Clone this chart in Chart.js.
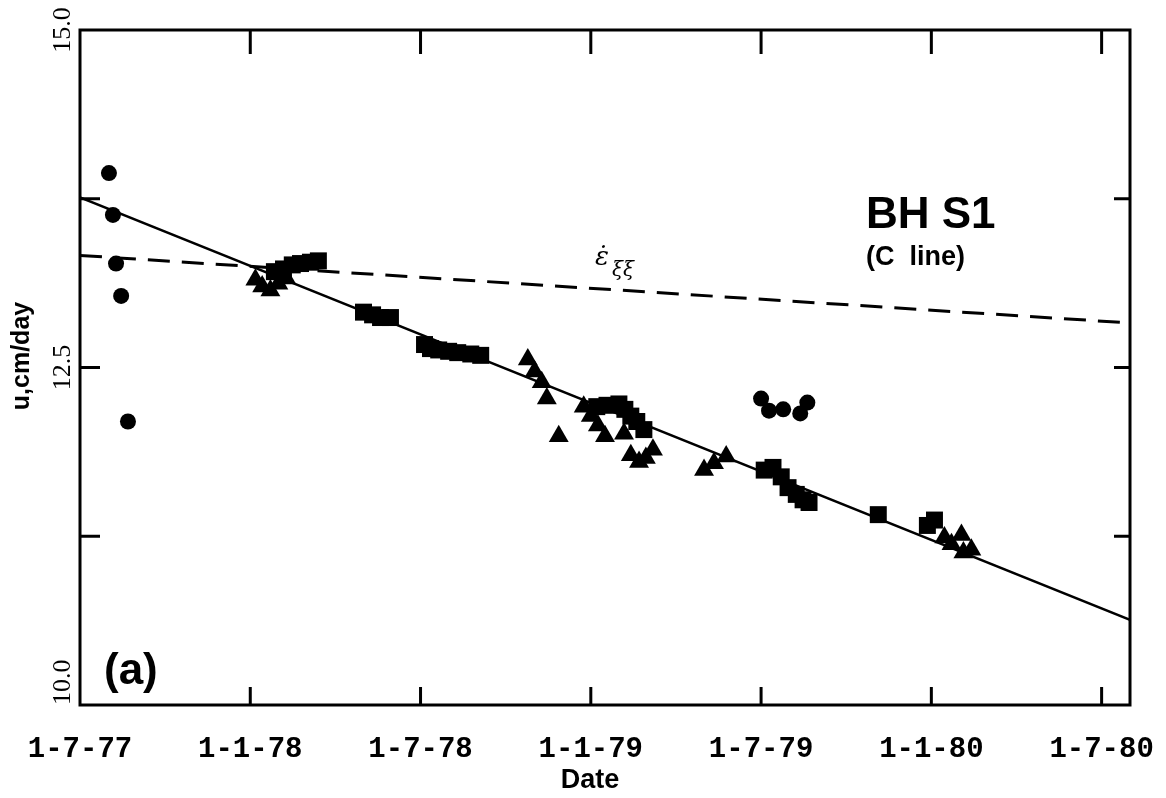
<!DOCTYPE html>
<html>
<head>
<meta charset="utf-8">
<script src="https://cdn.jsdelivr.net/npm/chart.js@4"></script>
<style>
  body { margin: 0; background: #fff; }
  #wrap { width: 1166px; height: 798px; }
</style>
</head>
<body>
<div id="wrap"><canvas id="chart" width="1166" height="798"></canvas></div>
<script>
// x values are months counted from 1-7-77
const tickMonths = [0, 6, 12, 18, 24, 30, 36];
const tickLabels = ['1-7-77', '1-1-78', '1-7-78', '1-1-79', '1-7-79', '1-1-80', '1-7-80'];
const yLabelValues = [10, 12.5, 15];
const yLabels = ['10.0', '12.5', '15.0'];
const yMinorTicks = [11.25, 13.75];

// regression line and strain-rate line
const fitMonths = [0, 37];
const fitU = [13.76, 10.63];
const strainMonths = [0, 37];
const strainU = [13.33, 12.83];

// circles
const circleMonths = [1.02, 1.16, 1.27, 1.45, 1.69, 24.0, 24.28, 24.78, 25.38, 25.63];
const circleU = [13.94, 13.63, 13.27, 13.03, 12.10, 12.27, 12.18, 12.19, 12.16, 12.24];

// triangles
const triMonths = [6.18, 6.42, 6.71, 6.99, 7.27,
  15.78, 16.02, 16.27, 16.45, 16.87,
  17.75, 18.0, 18.25, 18.5, 19.17, 19.41, 19.7, 19.94, 20.19,
  21.99, 22.34, 22.77,
  30.46, 30.71, 31.06, 31.13, 31.41];
const triU = [13.15, 13.10, 13.07, 13.12, 13.16,
  12.56, 12.47, 12.39, 12.27, 11.99,
  12.21, 12.14, 12.07, 11.99, 12.01, 11.85, 11.80, 11.83, 11.89,
  11.74, 11.79, 11.84,
  11.24, 11.19, 11.26, 11.13, 11.15];

// squares
const sqMonths = [6.85, 7.17, 7.48, 7.77, 8.12, 8.40,
  9.99, 10.31, 10.59, 10.94,
  12.14, 12.35, 12.64, 12.99, 13.31, 13.77, 14.12,
  18.21, 18.57, 18.99, 19.2, 19.41, 19.62, 19.87,
  24.11, 24.42, 24.71, 24.95, 25.24, 25.48, 25.69,
  28.13, 29.86, 30.11];
const sqU = [13.21, 13.23, 13.26, 13.27, 13.28, 13.29,
  12.91, 12.89, 12.87, 12.87,
  12.67, 12.64, 12.63, 12.62, 12.61, 12.60, 12.59,
  12.21, 12.22, 12.23, 12.19, 12.14, 12.10, 12.04,
  11.74, 11.76, 11.69, 11.61, 11.56, 11.52, 11.50,
  11.41, 11.33, 11.37];

function pts(xs, ys) {
  return xs.map((x, i) => ({ x: x, y: ys[i] }));
}

// frame, inward ticks, rotated y labels, axis titles and the annotations
const framePlugin = {
  id: 'frame',
  afterDraw(chart) {
    const c = chart.ctx;
    const a = chart.chartArea;
    const xs = chart.scales.x;
    const ys = chart.scales.y;
    c.save();
    c.strokeStyle = '#000';
    c.lineWidth = 3;
    c.strokeRect(a.left, a.top, a.right - a.left, a.bottom - a.top);

    c.beginPath();
    tickMonths.slice(1).forEach(m => {
      const px = xs.getPixelForValue(m);
      c.moveTo(px, a.top); c.lineTo(px, a.top + 24);
      c.moveTo(px, a.bottom); c.lineTo(px, a.bottom - 18);
    });
    yMinorTicks.concat([12.5]).forEach(v => {
      const py = ys.getPixelForValue(v);
      c.moveTo(a.left, py); c.lineTo(a.left + 20, py);
      c.moveTo(a.right, py); c.lineTo(a.right - 16, py);
    });
    c.stroke();

    // y tick labels, rotated
    c.fillStyle = '#000';
    c.font = '26px "Liberation Serif"';
    c.textBaseline = 'middle';
    yLabelValues.forEach((v, i) => {
      const py = ys.getPixelForValue(v);
      c.save();
      c.translate(a.left - 17, py);
      c.rotate(-Math.PI / 2);
      c.textAlign = i === 0 ? 'left' : 'center';
      c.fillText(yLabels[i], 0, 0);
      c.restore();
    });

    // axis titles
    c.font = 'bold 25px "Liberation Sans"';
    c.textAlign = 'center';
    c.save();
    c.translate(22, 356);
    c.rotate(-Math.PI / 2);
    c.fillText('u,cm/day', 0, 0);
    c.restore();
    c.font = 'bold 27px "Liberation Sans"';
    c.fillText('Date', 590, 781);

    c.textBaseline = 'alphabetic';
    c.textAlign = 'left';
    c.font = 'bold 44px "Liberation Sans"';
    c.fillText('BH S1', 866, 228);
    c.font = 'bold 27px "Liberation Sans"';
    c.fillText('(C  line)', 866, 265);
    c.font = 'bold 44px "Liberation Sans"';
    c.fillText('(a)', 104, 684);
    c.font = 'italic 26px "DejaVu Serif"';
    c.fillText('\u03b5\u0307', 595, 265);
    c.font = 'italic 20px "DejaVu Serif"';
    c.fillText('\u03be\u03be', 612, 276);
    c.restore();
  }
};

new Chart(document.getElementById('chart'), {
  type: 'scatter',
  data: {
    datasets: [
      {
        type: 'line',
        data: pts(fitMonths, fitU),
        borderColor: '#000',
        borderWidth: 2.5,
        pointRadius: 0,
        fill: false
      },
      {
        type: 'line',
        data: pts(strainMonths, strainU),
        borderColor: '#000',
        borderWidth: 3,
        borderDash: [22, 12],
        pointRadius: 0,
        fill: false
      },
      {
        data: pts(circleMonths, circleU),
        pointStyle: 'circle',
        pointRadius: 8,
        backgroundColor: '#000',
        borderColor: '#000',
        borderWidth: 0
      },
      {
        data: pts(triMonths, triU),
        pointStyle: 'triangle',
        pointRadius: 11.5,
        backgroundColor: '#000',
        borderColor: '#000',
        borderWidth: 0
      },
      {
        data: pts(sqMonths, sqU),
        pointStyle: 'rect',
        pointRadius: 12,
        backgroundColor: '#000',
        borderColor: '#000',
        borderWidth: 0
      }
    ]
  },
  options: {
    responsive: false,
    animation: false,
    layout: { padding: { top: 30, right: 36, left: 0, bottom: 0 } },
    plugins: {
      legend: { display: false },
      tooltip: { enabled: false }
    },
    scales: {
      x: {
        type: 'linear',
        min: 0,
        max: 37,
        afterBuildTicks: axis => { axis.ticks = tickMonths.map(v => ({ value: v })); },
        afterFit: axis => {
          axis.height = 93;
          axis.paddingLeft = 0;
          axis.paddingRight = 0;
        },
        grid: { display: false },
        border: { display: false },
        ticks: {
          autoSkip: false,
          maxRotation: 0,
          padding: 19,
          color: '#000',
          font: { family: 'Liberation Mono', size: 29, weight: 'bold' },
          callback: v => tickLabels[tickMonths.indexOf(v)] ?? ''
        },
        title: { display: false }
      },
      y: {
        min: 10,
        max: 15,
        afterFit: axis => { axis.width = 80; },
        grid: { display: false },
        border: { display: false },
        ticks: { display: false },
        title: { display: false }
      }
    }
  },
  plugins: [framePlugin]
});
</script>
</body>
</html>
